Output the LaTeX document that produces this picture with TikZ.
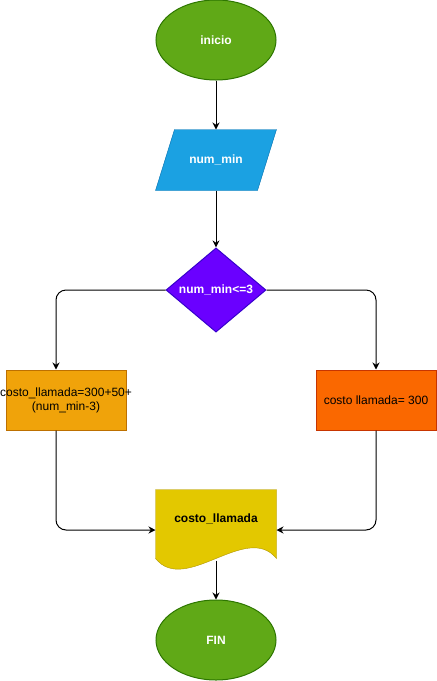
\documentclass[tikz,border=0pt]{standalone}
\usepackage{fontspec}
\setmainfont{Liberation Sans}
\usetikzlibrary{positioning,arrows.meta,calc,backgrounds,shapes.geometric}
\definecolor{termfill}{HTML}{60A917}
\definecolor{termline}{HTML}{2D7600}
\definecolor{iofill}{HTML}{1BA1E2}
\definecolor{ioline}{HTML}{006EAF}
\definecolor{decfill}{HTML}{6A00FF}
\definecolor{decline}{HTML}{3700CC}
\definecolor{lftfill}{HTML}{F0A30A}
\definecolor{lftline}{HTML}{BD7000}
\definecolor{rgtfill}{HTML}{FA6800}
\definecolor{rgtline}{HTML}{C73500}
\definecolor{docfill}{HTML}{E3C800}
\definecolor{docline}{HTML}{B09500}

\begin{document}
\begin{tikzpicture}[x=1pt,y=-1pt,font=\fontsize{12}{14}\selectfont,line width=1pt,
   term/.style={ellipse,draw=termline,fill=termfill,text=white,font=\fontsize{12}{14}\selectfont\bfseries,minimum width=120pt,minimum height=80pt},
   io/.style={rectangle,text=white,font=\fontsize{12}{14}\selectfont\bfseries,minimum width=120pt,minimum height=60pt,inner sep=0pt},
   dec/.style={diamond,draw=decline,fill=decfill,text=white,font=\fontsize{12}{14}\selectfont\bfseries,minimum width=100pt,minimum height=80pt,inner sep=0pt},
   proc/.style={rectangle,minimum width=120pt,minimum height=60pt,align=center,inner sep=0pt},
   doc/.style={rectangle,minimum width=120pt,minimum height=80pt,inner sep=0pt,font=\fontsize{12}{14}\selectfont\bfseries},
   flow/.style={-{Stealth[length=7pt,width=7pt]},black,rounded corners=10pt}]
  \useasboundingbox (0,0) rectangle (437,681);
  \node[term] (ini) at (216,40) {inicio};
  \node[io] (inp) at (216,160) {num\_min};
  \node[dec] (cmp) at (216,290) {num\_min<=3};
  \node[proc,draw=lftline,fill=lftfill] (lft) at (66,400) {\makebox[0pt]{costo\_llamada=300+50+}\\(num\_min-3)};
  \node[proc,draw=rgtline,fill=rgtfill] (rgt) at (376,400) {costo llamada= 300};
  \node[doc] (out) at (216,530) {\raisebox{8pt}[0pt][0pt]{costo\_llamada}};
  \node[term] (fin) at (216,640) {FIN};
  \begin{scope}[on background layer]
    \draw[draw=ioline,fill=iofill] ($(inp.north west)+(19,0)$) -- (inp.north east) -- ($(inp.south east)+(-19,0)$) -- (inp.south west) -- cycle;
    \draw[draw=docline,fill=docfill] (out.north west) -- (out.north east) -- ($(out.south east)+(0,-12)$)
      .. controls ($(out.south east)+(-30,-49)$) and ($(out.south west)+(30,25)$) .. ($(out.south west)+(0,-12)$) -- cycle;
  \end{scope}
  \draw[flow] (ini) -- (inp);
  \draw[flow] (inp) -- (cmp);
  \draw[flow] (cmp.west) -| ([xshift=-10pt]lft.north);
  \draw[flow] (cmp.east) -| (rgt.north);
  \draw[flow] ([xshift=-10pt]lft.south) |- (out.west);
  \draw[flow] (rgt.south) |- (out.east);
  \draw[flow] ([yshift=10pt]out.south) -- (fin);
\end{tikzpicture}
\end{document}
